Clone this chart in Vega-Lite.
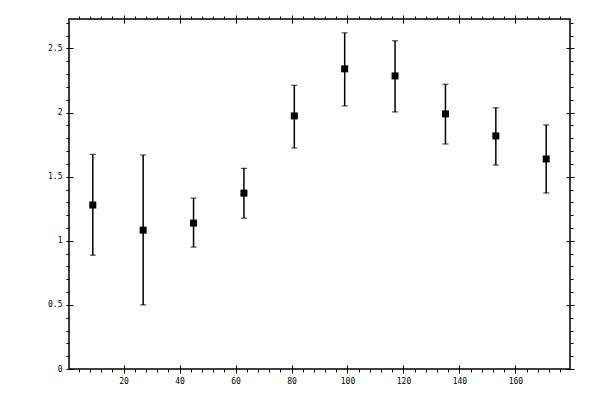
{
  "$schema": "https://vega.github.io/schema/vega-lite/v6.json",
  "autosize": "none",
  "width": 501,
  "height": 350,
  "padding": {"top": 19, "left": 69, "right": 30, "bottom": 31},
  "background": "white",
  "config": {
    "view": {"stroke": "black", "strokeWidth": 1.5},
    "axis": {
      "grid": false,
      "domain": false,
      "title": null,
      "labelFont": "DejaVu Sans Mono",
      "labelFontSize": 8,
      "labelColor": "black",
      "tickColor": "black",
      "tickWidth": 1
    }
  },
  "data": {
    "values": [
      {"x": 9, "y": 1.279, "lo": 0.888, "hi": 1.674},
      {"x": 27, "y": 1.083, "lo": 0.5, "hi": 1.669},
      {"x": 45, "y": 1.138, "lo": 0.951, "hi": 1.333},
      {"x": 63, "y": 1.372, "lo": 1.177, "hi": 1.565},
      {"x": 81, "y": 1.974, "lo": 1.724, "hi": 2.213},
      {"x": 99, "y": 2.341, "lo": 2.052, "hi": 2.622},
      {"x": 117, "y": 2.286, "lo": 2.005, "hi": 2.56},
      {"x": 135, "y": 1.99, "lo": 1.755, "hi": 2.221},
      {"x": 153, "y": 1.818, "lo": 1.591, "hi": 2.037},
      {"x": 171, "y": 1.638, "lo": 1.373, "hi": 1.904}
    ]
  },
  "resolve": {"axis": {"x": "independent", "y": "independent"}},
  "layer": [
    {
      "mark": {"type": "rule", "color": "black", "strokeWidth": 1.5},
      "encoding": {
        "x": {
          "field": "x", "type": "quantitative",
          "scale": {"domain": [0.5, 179.5], "nice": false, "zero": false},
          "axis": {"orient": "bottom", "labels": false, "tickSize": 3,
            "values": [4,8,12,16,24,28,32,36,44,48,52,56,64,68,72,76,84,88,92,96,104,108,112,116,124,128,132,136,144,148,152,156,164,168,172,176]}
        },
        "y": {
          "field": "lo", "type": "quantitative",
          "scale": {"domain": [0, 2.73], "nice": false, "zero": false},
          "axis": {"orient": "left", "labels": false, "tickSize": 3,
            "values": [0.1,0.2,0.3,0.4,0.6,0.7,0.8,0.9,1.1,1.2,1.3,1.4,1.6,1.7,1.8,1.9,2.1,2.2,2.3,2.4,2.6,2.7]}
        },
        "y2": {"field": "hi"}
      }
    },
    {
      "mark": {"type": "tick", "orient": "horizontal", "color": "black", "size": 6, "thickness": 1.2},
      "encoding": {
        "x": {
          "field": "x", "type": "quantitative",
          "axis": {"orient": "top", "labels": false, "tickSize": 3,
            "values": [4,8,12,16,24,28,32,36,44,48,52,56,64,68,72,76,84,88,92,96,104,108,112,116,124,128,132,136,144,148,152,156,164,168,172,176]}
        },
        "y": {
          "field": "hi", "type": "quantitative",
          "axis": {"orient": "right", "labels": false, "tickSize": 3,
            "values": [0.1,0.2,0.3,0.4,0.6,0.7,0.8,0.9,1.1,1.2,1.3,1.4,1.6,1.7,1.8,1.9,2.1,2.2,2.3,2.4,2.6,2.7]}
        }
      }
    },
    {
      "mark": {"type": "tick", "orient": "horizontal", "color": "black", "size": 6, "thickness": 1.2},
      "encoding": {
        "x": {
          "field": "x", "type": "quantitative",
          "axis": {"orient": "bottom", "offset": -4, "tickSize": 8, "labelPadding": 4,
            "format": "d", "values": [20,40,60,80,100,120,140,160]}
        },
        "y": {
          "field": "lo", "type": "quantitative",
          "axis": {"orient": "left", "offset": -4, "tickSize": 7, "labelPadding": 4,
            "format": "~g", "values": [0,0.5,1,1.5,2,2.5]}
        }
      }
    },
    {
      "mark": {"type": "point", "shape": "square", "filled": true, "color": "black", "opacity": 1, "size": 49},
      "encoding": {
        "x": {
          "field": "x", "type": "quantitative",
          "axis": {"orient": "top", "offset": -4, "tickSize": 8, "labels": false,
            "values": [20,40,60,80,100,120,140,160]}
        },
        "y": {
          "field": "y", "type": "quantitative",
          "axis": {"orient": "right", "offset": -4, "tickSize": 8, "labels": false,
            "values": [0,0.5,1,1.5,2,2.5]}
        }
      }
    }
  ]
}
